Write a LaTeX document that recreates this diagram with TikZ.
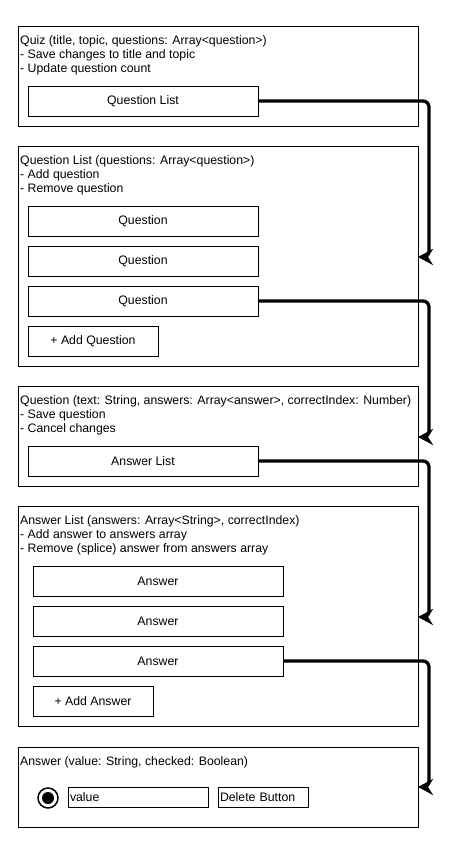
\documentclass[tikz,border=0pt]{standalone}
\usepackage{fontspec}
\setmainfont{Liberation Sans}
\usetikzlibrary{arrows.meta}
\begin{document}
\begin{tikzpicture}[x=1pt,y=-1pt,
  frame/.style={draw, line width=1pt, inner sep=0pt, outer sep=0pt, anchor=north west},
  btn/.style={draw, line width=1pt, inner sep=0pt, outer sep=0pt, anchor=north west, font=\fontsize{12.3}{14}\selectfont},
  desc/.style={anchor=base west, inner sep=0pt, font=\fontsize{12.3}{14}\selectfont},
  conn/.style={line width=3.3pt, rounded corners=6pt, -{Stealth[length=15pt,width=16pt,inset=5pt]}}]
\fill[white] (0,0) rectangle (470,844);
\useasboundingbox (0,0) rectangle (470,844);

% Quiz
\node[frame, minimum width=400pt, minimum height=100pt] (quiz) at (18,26) {};
\node[desc] (quizt1) at (20,44.8) {Quiz (title, topic, questions: Array<question>)};
\node[desc] (quizt2) at (20,58.8) {- Save changes to title and topic};
\node[desc] (quizt3) at (20,72.8) {- Update question count};
\node[btn, minimum width=230pt, minimum height=30pt] (b1) at (28,86) {Question List};

% Question List
\node[frame, minimum width=400pt, minimum height=220pt] (qlist) at (18,146) {};
\node[desc] (qlt1) at (20,164.8) {Question List (questions: Array<question>)};
\node[desc] (qlt2) at (20,178.8) {- Add question};
\node[desc] (qlt3) at (20,192.8) {- Remove question};
\node[btn, minimum width=230pt, minimum height=30pt] (q1) at (28,206) {Question};
\node[btn, minimum width=230pt, minimum height=30pt] (q2) at (28,246) {Question};
\node[btn, minimum width=230pt, minimum height=30pt] (q3) at (28,286) {Question};
\node[btn, minimum width=130pt, minimum height=30pt] (addq) at (28,326) {+ Add Question};

% Question
\node[frame, minimum width=400pt, minimum height=100pt] (question) at (18,386) {};
\node[desc] (qt1) at (20,404.8) {Question (text: String, answers: Array<answer>, correctIndex: Number)};
\node[desc] (qt2) at (20,418.8) {- Save question};
\node[desc] (qt3) at (20,432.8) {- Cancel changes};
\node[btn, minimum width=230pt, minimum height=30pt] (al) at (28,446) {Answer List};

% Answer List
\node[frame, minimum width=400pt, minimum height=220pt] (alist) at (18,506) {};
\node[desc] (alt1) at (20,524.8) {Answer List (answers: Array<String>, correctIndex)};
\node[desc] (alt2) at (20,538.8) {- Add answer to answers array};
\node[desc] (alt3) at (20,552.8) {- Remove (splice) answer from answers array};
\node[btn, minimum width=250pt, minimum height=30pt] (a1) at (33,566) {Answer};
\node[btn, minimum width=250pt, minimum height=30pt] (a2) at (33,606) {Answer};
\node[btn, minimum width=250pt, minimum height=30pt] (a3) at (33,646) {Answer};
\node[btn, minimum width=120pt, minimum height=30pt] (adda) at (33,686) {+ Add Answer};

% Answer
\node[frame, minimum width=400pt, minimum height=80pt] (answer) at (18,747) {};
\node[desc] (at1) at (20,765.8) {Answer (value: String, checked: Boolean)};
\node[draw, circle, line width=1.5pt, minimum size=20pt, inner sep=0pt] (radio) at (48,798) {};
\fill (radio.center) circle (6pt);
\node[btn, minimum width=140pt, minimum height=20pt, text width=136pt, align=left] (val) at (68,787) {value};
\node[btn, minimum width=90pt, minimum height=20pt, text width=86pt, align=left] (del) at (218,787) {Delete Button};

% Connectors
\draw[conn] (b1.east) -- (429,101) -- (429,257) -- (qlist.east |- 0,257);
\draw[conn] (q3.east) -- (429,301) -- (429,437) -- (question.east |- 0,437);
\draw[conn] (al.east) -- (429,461) -- (429,617) -- (alist.east |- 0,617);
\draw[conn] (a3.east) -- (429,661) -- (429,787) -- (answer.east |- 0,787);
\end{tikzpicture}
\end{document}
